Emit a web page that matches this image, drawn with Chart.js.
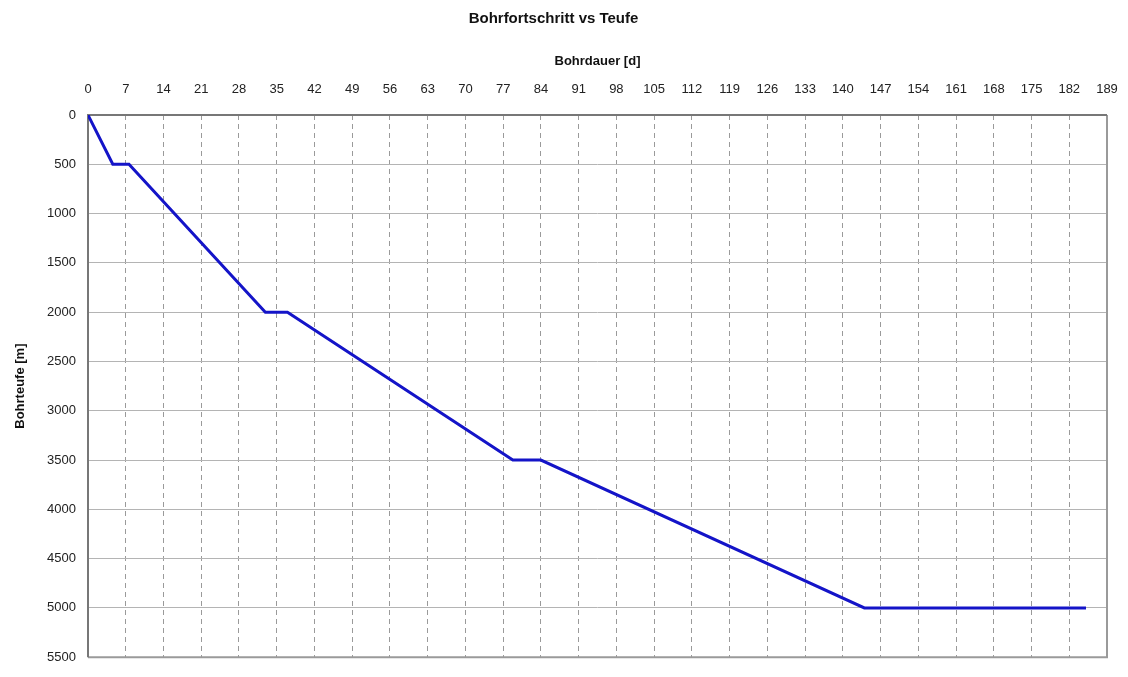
<!DOCTYPE html>
<html>
<head>
<meta charset="utf-8">
<script src="https://cdn.jsdelivr.net/npm/chart.js@4/dist/chart.umd.min.js"></script>
<style>
  html, body { margin: 0; padding: 0; background: #fff; }
  #wrap { width: 1128px; height: 677px; }
</style>
</head>
<body>
<div id="wrap"><canvas id="bohr" width="1128" height="677"></canvas></div>
<script>
// Bohrdauer in Tagen und zugehörige Teufe in Metern
var days = [0, 4.6, 7.6, 32.9, 37.0, 78.8, 84.0, 144.0, 185.1];
var depth = [0, 500, 500, 2000, 2000, 3500, 3500, 5000, 5000];
var dayTicks = [0, 7, 14, 21, 28, 35, 42, 49, 56, 63, 70, 77, 84, 91, 98, 105, 112, 119, 126, 133, 140, 147, 154, 161, 168, 175, 182, 189];
var depthTicks = [0, 500, 1000, 1500, 2000, 2500, 3000, 3500, 4000, 4500, 5000, 5500];

var points = days.map(function (d, i) { return { x: d, y: depth[i] }; });

Chart.defaults.font.family = '"Liberation Sans", Arial, sans-serif';
Chart.defaults.color = '#222';

// Rahmen um die Zeichenfläche
var frame = {
  id: 'frame',
  beforeDatasetsDraw: function (chart) {
    var a = chart.chartArea, ctx = chart.ctx;
    ctx.save();
    ctx.strokeStyle = '#9a9a9a';
    ctx.lineWidth = 2;
    ctx.beginPath();
    ctx.moveTo(a.right, a.top);
    ctx.lineTo(a.right, a.bottom);
    ctx.lineTo(a.left, a.bottom);
    ctx.stroke();
    ctx.strokeStyle = '#777';
    ctx.beginPath();
    ctx.moveTo(a.left, a.bottom);
    ctx.lineTo(a.left, a.top);
    ctx.lineTo(a.right, a.top);
    ctx.stroke();
    ctx.restore();
  }
};

new Chart(document.getElementById('bohr'), {
  type: 'scatter',
  data: {
    datasets: [{
      label: 'Teufe',
      data: points,
      showLine: true,
      borderColor: '#1414c8',
      backgroundColor: '#1414c8',
      borderWidth: 3,
      pointRadius: 0,
      tension: 0
    }]
  },
  options: {
    responsive: false,
    animation: false,
    layout: { padding: { left: 0, right: 21, top: 0, bottom: 9 } },
    plugins: {
      legend: { display: false },
      tooltip: { enabled: false },
      title: {
        display: true,
        text: 'Bohrfortschritt vs Teufe',
        font: { size: 15, weight: 'bold' },
        color: '#111',
        padding: { top: 10, bottom: 0 }
      }
    },
    scales: {
      x: {
        type: 'linear',
        position: 'top',
        min: 0,
        max: 189,
        afterBuildTicks: function (scale) {
          scale.ticks = dayTicks.map(function (v) { return { value: v }; });
        },
        afterFit: function (scale) { scale.height = 87; },
        ticks: { font: { size: 13 }, padding: 10, maxRotation: 0, autoSkip: false },
        grid: {
          color: '#9a9a9a',
          lineWidth: 1,
          drawTicks: true,
          tickLength: 8,
          tickColor: 'rgba(0,0,0,0)',
          borderDash: [5, 4]
        },
        border: { display: false, dash: [5, 4] },
        title: {
          display: true,
          text: 'Bohrdauer [d]',
          font: { size: 13, weight: 'bold' },
          color: '#111',
          padding: { top: 26, bottom: 0 }
        }
      },
      y: {
        type: 'linear',
        reverse: true,
        min: 0,
        max: 5500,
        afterBuildTicks: function (scale) {
          scale.ticks = depthTicks.map(function (v) { return { value: v }; });
        },
        afterFit: function (scale) { scale.width = 88; },
        ticks: {
          font: { size: 13 },
          padding: 12,
          autoSkip: false,
          callback: function (v) { return String(v); }
        },
        grid: { color: '#b4b4b4', lineWidth: 1, drawTicks: false },
        border: { display: false },
        title: {
          display: true,
          text: 'Bohrteufe [m]',
          font: { size: 13, weight: 'bold' },
          color: '#111',
          padding: { top: 13, bottom: 0 }
        }
      }
    }
  },
  plugins: [frame]
});
</script>
</body>
</html>
